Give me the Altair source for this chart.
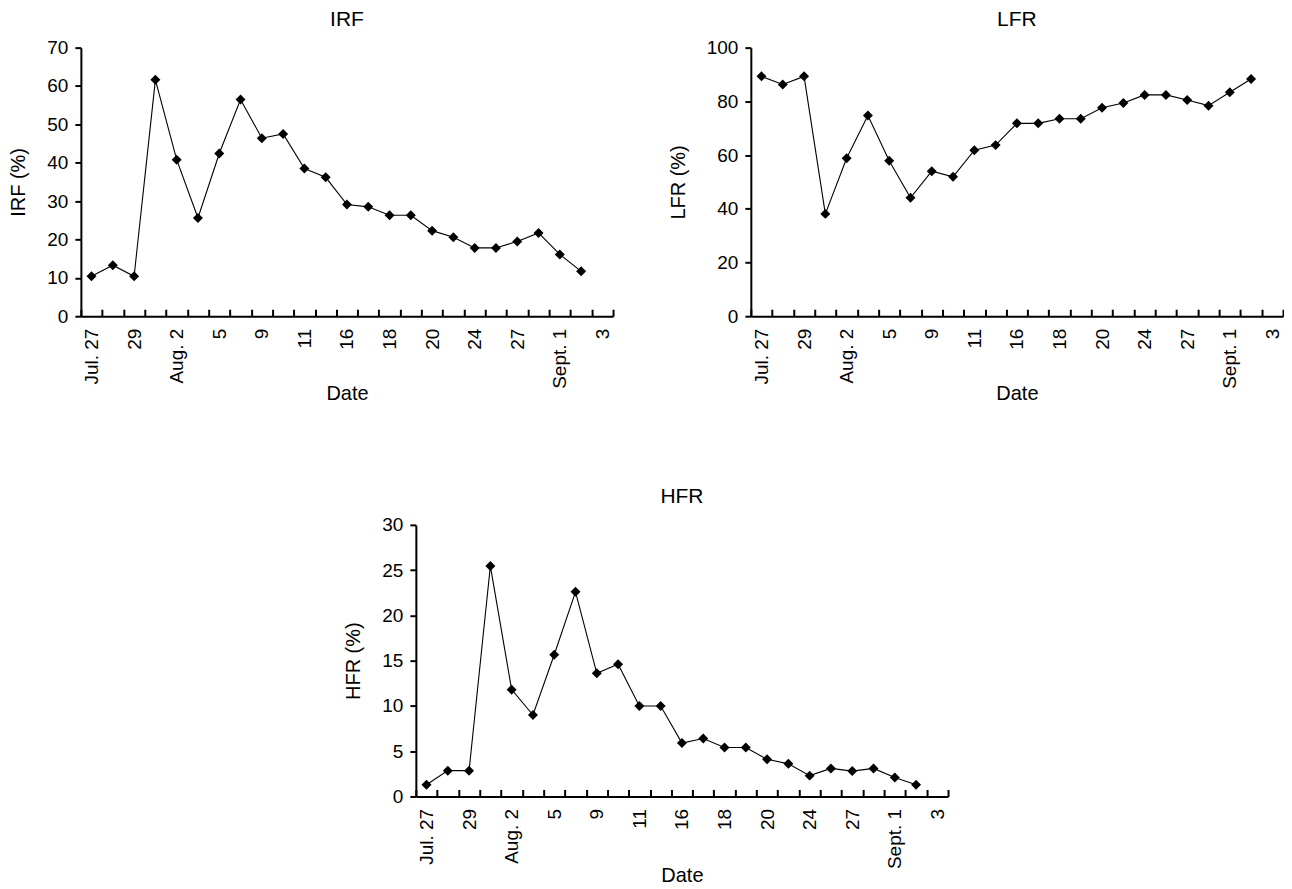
import altair as alt
import pandas as pd

# Category axis: 25 date slots, every other one labelled
tick_labels = ["Jul. 27", "29", "Aug. 2", "5", "9", "11", "16", "18", "20",
               "24", "27", "Sept. 1", "3"]
n_slots = 25

irf = [10.4, 13.3, 10.4, 61.6, 40.8, 25.6, 42.4, 56.5, 46.4, 47.5, 38.5, 36.2,
       29.1, 28.5, 26.3, 26.3, 22.3, 20.6, 17.8, 17.8, 19.5, 21.7, 16.1, 11.7]
lfr = [89.3, 86.3, 89.3, 38.1, 58.8, 74.7, 57.9, 44.1, 54.0, 51.9, 61.8, 63.7,
       71.8, 71.8, 73.5, 73.5, 77.6, 79.4, 82.4, 82.4, 80.5, 78.4, 83.4, 88.3]
hfr = [1.3, 2.85, 2.85, 25.45, 11.8, 9.0, 15.65, 22.6, 13.6, 14.6, 10.0, 10.0,
       5.9, 6.4, 5.4, 5.4, 4.1, 3.6, 2.3, 3.1, 2.8, 3.1, 2.1, 1.3]

FONT = "Liberation Sans"
W, H = 533, 269
LAB = 19
TIT = 20

label_js = "[" + ",".join('"%s"' % s for s in tick_labels) + "]"


def panel(name, values, ymax, ystep, h=H, xtitle_pad=-5):
    df = pd.DataFrame({"slot": list(range(len(values))), "value": values})
    xscale = alt.Scale(domain=[-0.5, n_slots - 0.5], nice=False, zero=False)
    yaxis = alt.Axis(values=list(range(0, ymax + 1, ystep)), grid=False,
                     domainColor="black", domainWidth=2, tickColor="black",
                     tickWidth=2, tickSize=6, labelPadding=7, labelFontSize=LAB,
                     labelColor="black", titleFontSize=TIT, titleColor="black",
                     titleFontWeight="normal", titlePadding=18)
    y = alt.Y("value:Q", scale=alt.Scale(domain=[0, ymax], nice=False),
              axis=yaxis, title=f"{name} (%)")
    axis_labels = alt.Axis(values=list(range(0, n_slots, 2)),
                           labelExpr=f"{label_js}[datum.value/2]",
                           ticks=False, domainColor="black", domainWidth=2,
                           labelAngle=270, labelFontSize=LAB, labelColor="black",
                           labelPadding=12, labelOverlap=False, grid=False,
                           titleFontSize=TIT, titleColor="black",
                           titleFontWeight="normal", titlePadding=xtitle_pad,
                           orient="bottom")
    axis_ticks = alt.Axis(values=[i - 0.5 for i in range(n_slots + 1)],
                          labels=False, domain=False, ticks=True, tickSize=7,
                          tickWidth=2, tickColor="black", offset=-7,
                          grid=False, title=None, orient="bottom")
    line = alt.Chart(df).mark_line(color="black", strokeWidth=1.1).encode(
        x=alt.X("slot:Q", scale=xscale, axis=axis_labels, title="Date"),
        y=y,
    )
    pts = alt.Chart(df).mark_point(shape="diamond", filled=True, size=100,
                                   color="black", opacity=1).encode(
        x=alt.X("slot:Q", scale=xscale, axis=axis_ticks),
        y=y,
    )
    return alt.layer(line, pts).resolve_axis(x="independent").properties(
        width=W, height=h,
        title=alt.TitleParams(name, fontSize=21, fontWeight="normal",
                              color="black", offset=9),
    )


top = alt.hconcat(panel("IRF", irf, 70, 10), panel("LFR", lfr, 100, 20),
                  spacing=54)
chart = alt.vconcat(top, panel("HFR", hfr, 30, 5, h=272, xtitle_pad=-3),
                    spacing=82, center=True).properties(padding=0).configure(
    font=FONT).configure_view(stroke=None)

chart.save("out.html", embed_options={"renderer": "svg", "actions": False})
